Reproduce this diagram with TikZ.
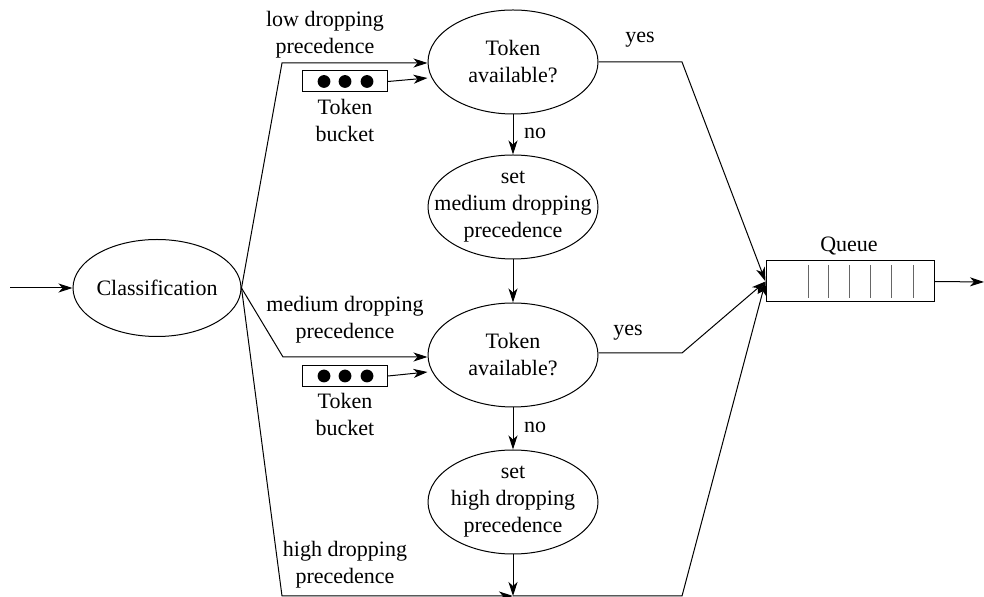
\documentclass[tikz,border=0pt]{standalone}
\usepackage{fontspec}
\setmainfont{Liberation Serif}
\usepackage{tikz}
\usetikzlibrary{arrows.meta,shapes.geometric}

\tikzset{
  txt/.style={font=\fontsize{11}{13.5}\selectfont, align=center, inner sep=0pt},
  oval/.style={draw, ellipse, inner sep=0pt, minimum width=85pt, minimum height=52pt},
  arr/.style={-{Stealth[length=7pt,width=4.5pt,inset=2pt]}},
}

\begin{document}
\begin{tikzpicture}[x=0.5pt,y=-0.5pt,line width=0.5pt]
\useasboundingbox (0,0) rectangle (984,597);

% classification
\node[oval, minimum width=84pt, minimum height=48.5pt,
      label={[txt]center:Classification}] (cls) at (157,288) {};
\coordinate (in) at (10,288);
\draw[arr] (in) -- (cls);

% first token check
\node[oval, label={[txt]center:Token\\available?}] (tokA) at (513,62) {};
\node[oval, label={[txt]center:set\\medium dropping\\precedence}] (setmed) at (513,207) {};
\node[oval, label={[txt]center:Token\\available?}] (tokB) at (513,355) {};
\node[oval, label={[txt]center:set\\high dropping\\precedence}] (sethigh) at (513,502) {};

% token buckets
\node[draw, minimum width=42.5pt, minimum height=10.5pt, inner sep=0pt] (bucketA) at (345,81.5) {};
\node[draw, minimum width=42.5pt, minimum height=10.5pt, inner sep=0pt] (bucketB) at (345,376) {};
\foreach \x in {324,345,367} {
  \fill (\x,81.5) circle (3.2pt);
  \fill (\x,376) circle (3.2pt);
}
\node[txt] (bucketAtxt) at (345,120) {Token\\bucket};
\node[txt] (bucketBtxt) at (345,414) {Token\\bucket};
\draw[arr] (bucketA.east) -- (tokA.west |- 0,78);
\draw[arr] (bucketB.east) -- (tokB.west |- 0,372);

% queue
\node[draw, minimum width=84pt, minimum height=20.5pt, inner sep=0pt] (queue) at (850,281.5) {};
\foreach \x in {808,828,849,870,891,913}
  \draw[gray!80!black] (\x,265) -- (\x,298);
\node[txt] (queuetxt) at (849,246) {Queue};
\coordinate (out) at (984,282);
\draw[arr] (queue.east) -- (out);

% low dropping precedence
\coordinate (lowbend) at (282,63);
\draw[arr] (cls.east) -- (lowbend) -- (tokA.west |- lowbend);
\node[txt] (lowtxt) at (325,35) {low dropping\\precedence};

% medium dropping precedence
\coordinate (medbend) at (283,357);
\draw[arr] (cls.east) -- (medbend) -- (tokB.west |- medbend);
\node[txt] (medtxt) at (345,320) {medium dropping\\precedence};

% high dropping precedence
\coordinate (highbend) at (282,596);
\coordinate (merge) at (513,596);
\draw[arr] (cls.east) -- (highbend) -- (merge);
\node[txt] (hightxt) at (345,565) {high dropping\\precedence};

% no branches
\draw[arr] (tokA) -- (setmed);
\node[txt] (noA) at (535,133) {no};
\draw[arr] (setmed) -- (tokB);
\draw[arr] (tokB) -- (sethigh);
\node[txt] (noB) at (535,427) {no};
\draw[arr] (sethigh) -- (merge);

% yes branches
\coordinate (yesbendA) at (682,62);
\coordinate (yesbendB) at (682,353);
\coordinate (lowestbend) at (682,596);
\draw[arr] (tokA.east) -- (yesbendA) -- (queue.west);
\node[txt] (yesA) at (640,40) {yes};
\draw[arr] (tokB.east |- yesbendB) -- (yesbendB) -- (queue.west);
\node[txt] (yesB) at (628,333) {yes};
\draw[arr] (merge) -- (lowestbend) -- (queue.west);

\end{tikzpicture}
\end{document}
